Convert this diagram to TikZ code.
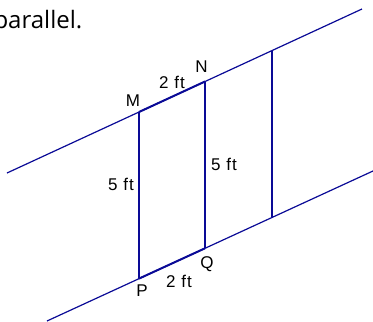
\documentclass[tikz,border=0pt]{standalone}
\usepackage{fontspec}
\setmainfont{Liberation Sans}
\newfontfamily\txtfont{Open Sans}
\newfontfamily\labfont[LetterSpace=6]{Liberation Sans}
\definecolor{linecol}{RGB}{10,10,150}
\begin{document}
\begin{tikzpicture}[x=1pt,y=-1pt,
  ln/.style={draw=linecol,line width=1.2pt},
  thk/.style={draw=linecol,line width=2.0pt},
  lab/.style={inner sep=0pt,font=\labfont\fontsize{17}{17}\selectfont}]
\useasboundingbox (0,0) rectangle (373,322);
% key points
\coordinate (T1) at (7,173);
\coordinate (T2) at (362,9);
\coordinate (B1) at (47,321);
\coordinate (B2) at (373,171);
\coordinate (M) at (139,112);
\coordinate (N) at (205,81.5);
\coordinate (R) at (272,50.6);
\coordinate (P) at (139,278.6);
\coordinate (Q) at (205,248.3);
\coordinate (S) at (272,217.4);
% parallel lines
\draw[ln] (T1) -- (T2);
\draw[ln] (B1) -- (B2);
% segments
\draw[thk] (M) -- (N);
\draw[thk] (P) -- (Q);
% transversals
\draw[ln] (M) -- (P);
\draw[ln] (N) -- (Q);
\draw[ln] (R) -- (S);
% labels
\node[lab] (lM) at (133,100.5) {M};
\node[lab] (lN) at (201.5,67) {N};
\node[lab] (lP) at (142,291) {P};
\node[lab] (lQ) at (207,264.5) {Q};
\node[lab] (lMN) at (172,82.5) {2 ft};
\node[lab] (lPQ) at (179,281.5) {2 ft};
\node[lab] (lMP) at (121,184) {5 ft};
\node[lab] (lNQ) at (224,164.5) {5 ft};
\node[inner sep=0pt,anchor=base east,font=\txtfont\fontsize{24}{24}\selectfont] (txt) at (82.5,28.7) {parallel.};
\end{tikzpicture}
\end{document}
